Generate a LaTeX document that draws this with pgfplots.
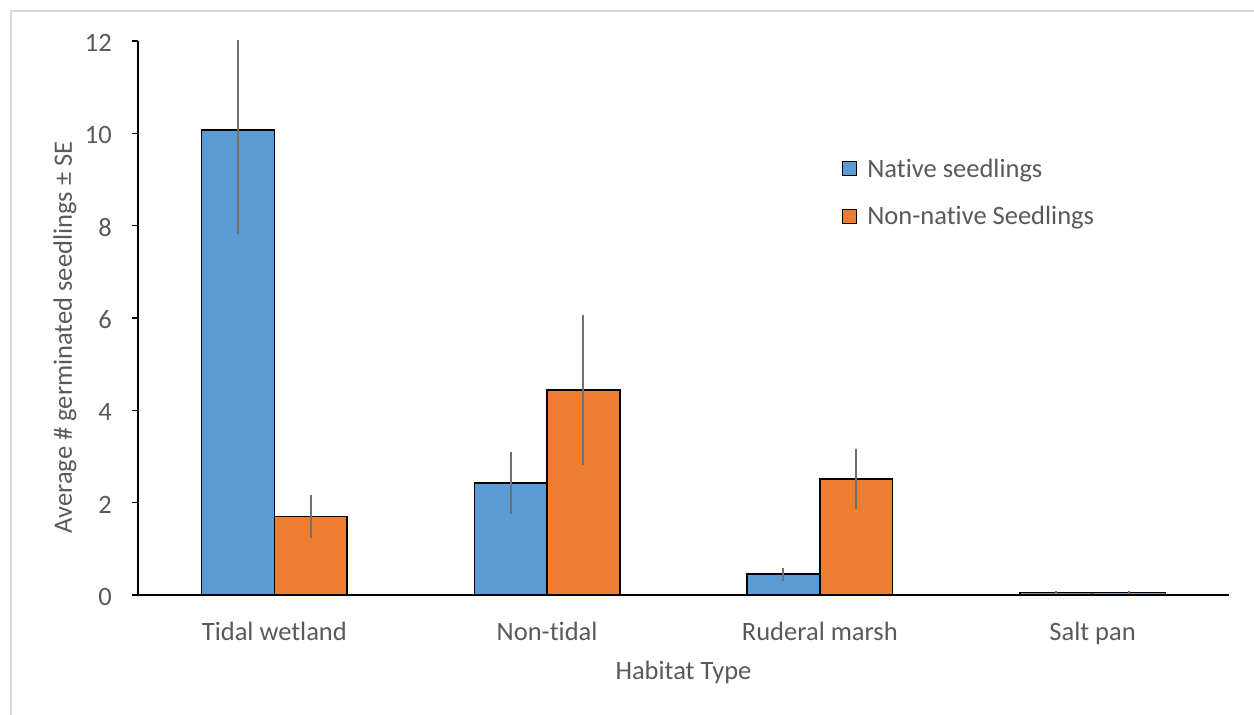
\documentclass[border=0pt]{standalone}
\usepackage{fontspec}
\setmainfont{Carlito}[Ligatures={NoCommon}]
\usepackage{pgfplots}
\pgfplotsset{compat=1.18}
\definecolor{nat}{HTML}{5B9BD5}
\definecolor{non}{HTML}{ED7D31}
\definecolor{txt}{HTML}{595959}
\definecolor{err}{HTML}{707070}
\definecolor{framec}{HTML}{D9D9D9}
\newcommand{\fs}{\fontsize{26.5}{31}\selectfont}
\begin{document}
\begin{tikzpicture}
\path[use as bounding box] (0,0) rectangle (1254pt,715pt);
\draw[framec, line width=1.5pt] (11pt,0pt) -- (11pt,704pt) -- (1254pt,704pt);
\begin{axis}[
  at={(138pt,120pt)}, anchor=south west,
  scale only axis, width=1091pt, height=554pt,
  xmin=-0.5, xmax=3.5, ymin=0, ymax=12,
  axis x line=bottom, axis y line=left,
  axis line style={-, line width=1.5pt, black},
  xtick={0,1,2,3},
  xticklabels={Tidal wetland, Non-tidal, Ruderal marsh, Salt pan},
  ytick={0,2,...,12},
  tick align=outside, major tick length=6pt,
  xtick style={draw=none},
  ytick style={line width=1.5pt, black},
  font=\fs,
  ticklabel style={font=\fs, text=txt},
  /pgf/number format/assume math mode=true,
  xticklabel style={anchor=north, inner sep=0pt, yshift=-21pt},
  yticklabel style={anchor=east, inner sep=0pt, xshift=-20pt, yshift=-2pt},
  xlabel={Habitat Type},
  ylabel={Average \# germinated seedlings ± SE},
  xlabel style={at={(axis description cs:0.5,-0.139)}, anchor=center, text=txt, font=\fs},
  ylabel style={at={(axis description cs:-0.0669,0.465)}, anchor=center, text=txt, font=\fs},
  legend style={at={(rel axis cs:0.645,0.7916)}, anchor=north west, draw=none, fill=none,
    inner sep=0pt, row sep=24pt, column sep=8pt,
    font=\fs, text=txt},
  legend cell align=left,
]
\addplot[ybar, bar width=0.2667, bar shift=0, fill=nat, draw=black, line width=1.5pt,
  legend image code/.code={\draw[fill=nat, draw=black, line width=1.5pt] (0pt,-7pt) rectangle (14pt,7pt);},
  error bars/.cd, y dir=both, y explicit, error mark=none,
  error bar style={line width=2pt, err}]
  coordinates {(-0.1333,10.07) +- (0,2.25) (0.8667,2.43) +- (0,0.67) (1.8667,0.45) +- (0,0.145) (2.8667,0.05) +- (0,0.03)};
\addlegendentry{Native seedlings}
\addplot[ybar, bar width=0.2667, bar shift=0, fill=non, draw=black, line width=1.5pt,
  legend image code/.code={\draw[fill=non, draw=black, line width=1.5pt] (0pt,-7pt) rectangle (14pt,7pt);},
  error bars/.cd, y dir=both, y explicit, error mark=none,
  error bar style={line width=2pt, err}]
  coordinates {(0.1333,1.70) +- (0,0.47) (1.1333,4.44) +- (0,1.63) (2.1333,2.51) +- (0,0.65) (3.1333,0.05) +- (0,0.03)};
\addlegendentry{Non-native Seedlings}
\end{axis}
\end{tikzpicture}
\end{document}
